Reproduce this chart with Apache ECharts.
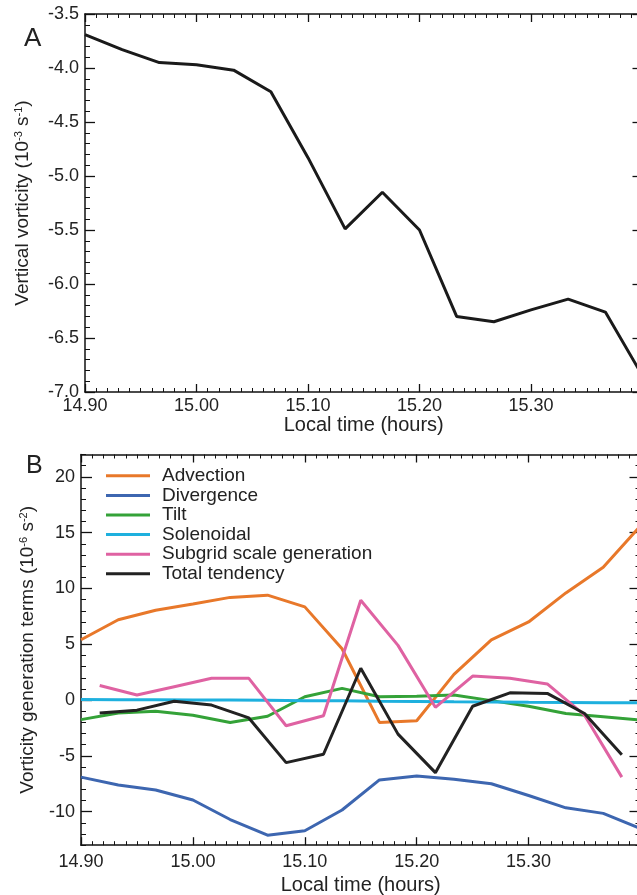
<!DOCTYPE html>
<html>
<head>
<meta charset="utf-8">
<script src="https://cdn.jsdelivr.net/npm/echarts@6/dist/echarts.min.js"></script>
<style>
html,body{margin:0;padding:0;background:#fff;}
#c{width:637px;height:895px;}
</style>
</head>
<body>
<div id="c"></div>
<script>
// ---- data ----
const timeFull = [14.9, 14.9333, 14.9667, 15.0, 15.0333, 15.0667, 15.1, 15.1333, 15.1667, 15.2, 15.2333, 15.2667, 15.3, 15.3333, 15.3667, 15.4];
const timeMid = [14.9167, 14.95, 14.9833, 15.0167, 15.05, 15.0833, 15.1167, 15.15, 15.1833, 15.2167, 15.25, 15.2833, 15.3167, 15.35, 15.3833];
const xTickLabels = [14.9, 15.0, 15.1, 15.2, 15.3];
const yTicksB = [-10, -5, 0, 5, 10, 15, 20];

const vorticity = [-3.69, -3.83, -3.95, -3.97, -4.02, -4.22, -4.83, -5.49, -5.15, -5.50, -6.30, -6.35, -6.24, -6.14, -6.26, -6.85];

const advection  = [5.4, 7.2, 8.05, 8.6, 9.2, 9.4, 8.35, 4.6, -2.0, -1.85, 2.3, 5.4, 7.0, 9.6, 11.9, 15.6];
const divergence = [-6.9, -7.6, -8.05, -8.95, -10.7, -12.1, -11.7, -9.85, -7.15, -6.8, -7.1, -7.5, -8.55, -9.65, -10.15, -11.5];
const tilt       = [-1.75, -1.15, -1.0, -1.35, -2.0, -1.45, 0.3, 1.05, 0.3, 0.35, 0.45, -0.05, -0.55, -1.2, -1.5, -1.8];
const solenoidal = [0.05, 0.03, 0.02, 0.0, 0.0, -0.02, -0.05, -0.07, -0.1, -0.12, -0.15, -0.17, -0.2, -0.22, -0.24, -0.25];
const subgrid    = [1.3, 0.45, 1.2, 1.95, 1.95, -2.3, -1.4, 8.95, 4.9, -0.65, 2.15, 1.95, 1.45, -1.35, -6.9];
const totalTend  = [-1.15, -0.9, -0.1, -0.45, -1.6, -5.6, -4.85, 2.85, -3.05, -6.5, -0.55, 0.65, 0.6, -1.2, -4.9];

const seriesNames = ['Advection', 'Divergence', 'Tilt', 'Solenoidal', 'Subgrid scale generation', 'Total tendency'];
const seriesColors = ['#e8782a', '#3d66b0', '#34a238', '#1eb0de', '#df62a2', '#222222'];

// ---- helpers ----
const FONT = '"Liberation Sans", Arial, Helvetica, sans-serif';
const INK = '#222';
const axisLineStyle = {color: '#111', width: 1.5};
const pair = (xs, ys) => xs.map((x, i) => [x, ys[i]]);

function xAxesFor(gridIndex, labelMargin, nameGap) {
  const base = {
    type: 'value', gridIndex, min: 14.9, max: 15.4, interval: 0.1,
    axisLine: {show: true, onZero: false, lineStyle: axisLineStyle},
    axisTick: {show: true, inside: true, length: 8, lineStyle: {color: '#111', width: 1.3}},
    minorTick: {show: true, splitNumber: 10, length: 4, lineStyle: {color: '#111', width: 1}},
    splitLine: {show: false}, minorSplitLine: {show: false}
  };
  return [
    Object.assign({}, base, {
      position: 'bottom',
      axisLabel: {
        show: true, margin: labelMargin, fontSize: 18, color: INK, fontFamily: FONT,
        formatter: v => (xTickLabels.some(t => Math.abs(t - v) < 1e-6) ? v.toFixed(2) : '')
      },
      name: 'Local time (hours)', nameLocation: 'middle', nameGap,
      nameTextStyle: {fontSize: 20, color: INK, fontFamily: FONT}
    }),
    Object.assign({}, base, {position: 'top', axisLabel: {show: false}})
  ];
}

const supRich = {
  sup: {fontSize: 11, fontFamily: FONT, color: INK, verticalAlign: 'top', padding: [0, 0, 4, 0]}
};

const option = {
  animation: false,
  textStyle: {fontFamily: FONT, color: INK},
  grid: [
    {left: 85, right: -5.5, top: 14, bottom: 503, outerBoundsMode: 'none'},
    {left: 81, right: -3.5, top: 454.5, bottom: 49.8, outerBoundsMode: 'none'}
  ],
  graphic: [
    {type: 'text', left: 24, top: 26, style: {text: 'A', fontSize: 26, fontFamily: FONT, fill: INK}},
    {type: 'text', left: 26, top: 454, style: {text: 'B', fontSize: 25, fontFamily: FONT, fill: INK}}
  ],
  legend: {
    left: 106, top: 466, orient: 'vertical', padding: 0,
    itemWidth: 44, itemHeight: 3, itemGap: 0, icon: 'rect', selectedMode: false,
    data: seriesNames,
    textStyle: {fontSize: 19, lineHeight: 19.6, color: INK, fontFamily: FONT, padding: [0, 0, 0, 7]}
  },
  xAxis: [].concat(xAxesFor(0, 5, 22), xAxesFor(1, 8, 30)),
  yAxis: [
    // panel A left
    {
      type: 'value', gridIndex: 0, position: 'left', min: -7, max: -3.5, interval: 0.5,
      axisLine: {show: true, onZero: false, lineStyle: axisLineStyle},
      axisTick: {show: true, inside: true, length: 10, lineStyle: {color: '#111', width: 1.3}},
      minorTick: {show: true, splitNumber: 5, length: 5, lineStyle: {color: '#111', width: 1}},
      splitLine: {show: false},
      axisLabel: {margin: 6, fontSize: 18, color: INK, fontFamily: FONT, formatter: v => v.toFixed(1)},
      name: 'Vertical vorticity (10{sup|-3} s{sup|-1})', nameLocation: 'middle', nameGap: 53,
      nameTextStyle: {fontSize: 19, color: INK, fontFamily: FONT, rich: supRich}
    },
    // panel A right
    {
      type: 'value', gridIndex: 0, position: 'right', min: -7, max: -3.5, interval: 0.5,
      axisLine: {show: true, onZero: false, lineStyle: axisLineStyle},
      axisTick: {show: true, inside: true, length: 10, lineStyle: {color: '#111', width: 1.3}},
      minorTick: {show: true, splitNumber: 5, length: 5, lineStyle: {color: '#111', width: 1}},
      splitLine: {show: false}, axisLabel: {show: false}
    },
    // panel B left minor
    {
      type: 'value', gridIndex: 1, position: 'left', min: -13, max: 22, interval: 1,
      axisLine: {show: true, onZero: false, lineStyle: axisLineStyle},
      axisTick: {show: true, inside: true, length: 5, lineStyle: {color: '#111', width: 1}},
      splitLine: {show: false},
      axisLabel: {margin: 6, fontSize: 18, color: INK, fontFamily: FONT,
        formatter: v => (yTicksB.indexOf(Math.round(v)) >= 0 && Math.abs(v - Math.round(v)) < 1e-6 ? String(Math.round(v)) : '')},
      name: 'Vorticity generation terms (10{sup|-6} s{sup|-2})', nameLocation: 'middle', nameGap: 44,
      nameTextStyle: {fontSize: 19, color: INK, fontFamily: FONT, rich: supRich}
    },
    // panel B left major
    {
      type: 'value', gridIndex: 1, position: 'left', min: -13, max: 22,
      axisLine: {show: false},
      axisTick: {show: true, inside: true, length: 11, customValues: yTicksB, lineStyle: {color: '#111', width: 1.3}},
      splitLine: {show: false}, axisLabel: {show: false}
    },
    // panel B right minor
    {
      type: 'value', gridIndex: 1, position: 'right', min: -13, max: 22, interval: 1,
      axisLine: {show: true, onZero: false, lineStyle: axisLineStyle},
      axisTick: {show: true, inside: true, length: 5, lineStyle: {color: '#111', width: 1}},
      splitLine: {show: false}, axisLabel: {show: false}
    },
    // panel B right major
    {
      type: 'value', gridIndex: 1, position: 'right', min: -13, max: 22,
      axisLine: {show: false},
      axisTick: {show: true, inside: true, length: 11, customValues: yTicksB, lineStyle: {color: '#111', width: 1.3}},
      splitLine: {show: false}, axisLabel: {show: false}
    }
  ],
  series: [
    {
      type: 'line', name: 'Vertical vorticity', xAxisIndex: 0, yAxisIndex: 0,
      data: pair(timeFull, vorticity), symbol: 'none', color: '#1a1a1a',
      lineStyle: {width: 3, color: '#1a1a1a'}
    }
  ].concat([
    [timeFull, advection], [timeFull, divergence], [timeFull, tilt],
    [timeFull, solenoidal], [timeMid, subgrid], [timeMid, totalTend]
  ].map((d, i) => ({
    type: 'line', name: seriesNames[i], xAxisIndex: 2, yAxisIndex: 2,
    data: pair(d[0], d[1]), symbol: 'none', color: seriesColors[i],
    lineStyle: {width: 3, color: seriesColors[i]}
  })))
};

const chart = echarts.init(document.getElementById('c'), null, {renderer: 'canvas'});
chart.setOption(option);
</script>
</body>
</html>
